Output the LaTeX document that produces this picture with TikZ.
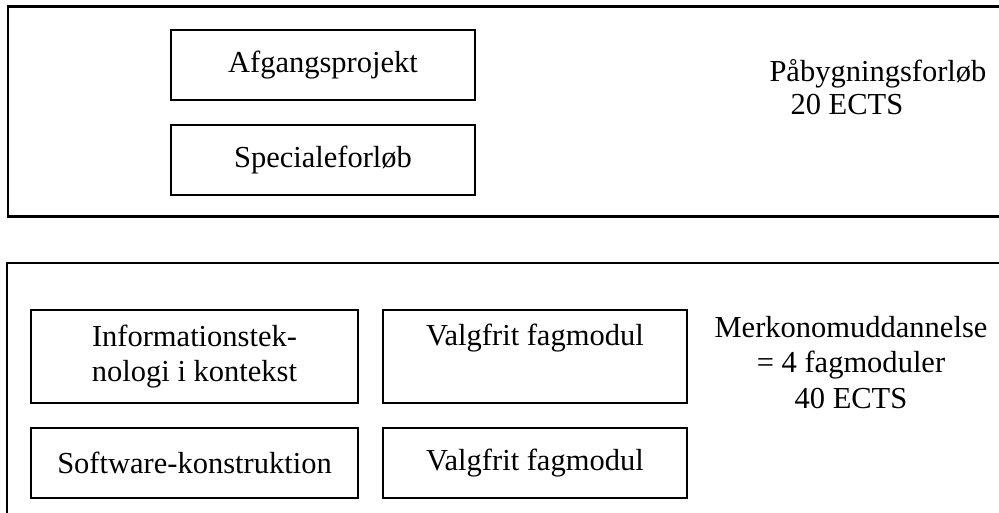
\documentclass[tikz,border=0pt]{standalone}
\usepackage{fontspec}
\setmainfont{Liberation Serif}
\usetikzlibrary{positioning}

\begin{document}
\begin{tikzpicture}[x=0.3934pt, y=-0.3934pt, node distance = 9pt, font=\fontsize{12pt}{13.8pt}\selectfont]
				\tikzstyle{frame} = [line width=0.8pt, draw=black]
				\tikzstyle{modul} = [line width=0.8pt, draw=black, rectangle, inner sep=0pt, align=center, minimum width=119.6pt, minimum height=27.5pt]
				\tikzstyle{invis} = [draw=none, inner sep=0pt]
				
				\path[use as bounding box, clip] (0, 0) rectangle (999, 513);
				
				% Påbygningsforløb
				\draw[frame] (8, 6.5) rectangle (1005, 216.5);
				\node[modul] 	at (323, 65) 	(afg) 	{Afgangsprojekt};
				\node[modul, below = of afg] 	(spec) 	{Specialeforløb};
				\node[invis, anchor=base west, align=left, font=\fontsize{12pt}{13pt}\selectfont] 	at (769, 115) 	(pab) 	{Påbygningsforløb\\\hspace*{8.3pt}20 ECTS};
				
				% Merkonomuddannelse
				\draw[frame] (7, 263) rectangle (1005, 530);
				\node[modul, minimum width=128.6pt, minimum height=36.6pt] 	at (194.5, 356.5) 	(itk) 	{Informationstek-\\nologi i kontekst};
				\node[modul, minimum width=128.6pt, below = of itk] 	(swk) 	{Software-konstruktion};
				\node[modul, minimum height=36.6pt, text height=8.2pt, text depth=16.6pt, right = of itk] 	(vf1) 	{Valgfrit fagmodul};
				\node[modul, below = of vf1] 	(vf2) 	{Valgfrit fagmodul};
				\node[invis, anchor=base, align=center] 	at (851, 408) 	(merk) 	{Merkonomuddannelse\\= 4 fagmoduler\\40 ECTS};
\end{tikzpicture}
\end{document}
